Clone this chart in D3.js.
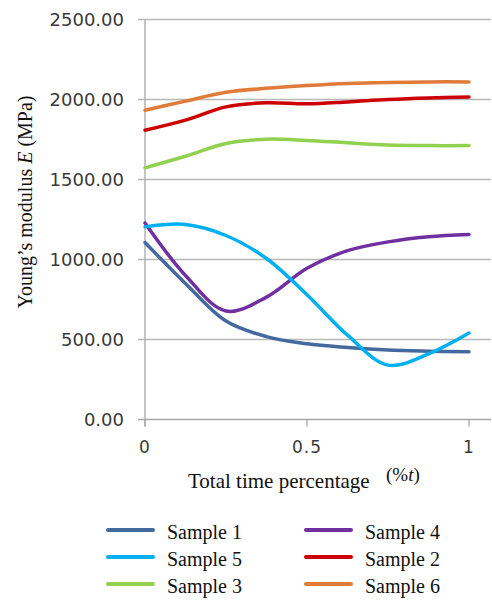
<!DOCTYPE html>
<html>
<head>
<meta charset="utf-8">
<script src="https://cdn.jsdelivr.net/npm/d3@7"></script>
<style>
  body { margin: 0; background: #fff; }
  .tick-label { font-family: "DejaVu Sans", sans-serif; fill: #3a3a3a; }
  .serif { font-family: "Liberation Serif", "Times New Roman", serif; fill: #111; }
</style>
</head>
<body>
<div id="chart"></div>
<script>
// time fraction where values were read
var tValues = [0, 0.125, 0.25, 0.375, 0.5, 0.625, 0.75, 0.875, 1];

// Young's modulus (MPa) per sample
var sample1 = [1106, 850, 615, 518, 473, 450, 434, 427, 423];
var sample4 = [1228, 900, 678, 765, 945, 1055, 1110, 1142, 1156];
var sample5 = [1204, 1219, 1150, 1006, 780, 527, 340, 410, 540];
var sample2 = [1808, 1871, 1954, 1980, 1973, 1985, 2000, 2010, 2016];
var sample3 = [1573, 1645, 1725, 1752, 1744, 1729, 1716, 1712, 1712];
var sample6 = [1933, 1990, 2045, 2070, 2087, 2100, 2107, 2110, 2110];

var seriesNames = ["Sample 1", "Sample 4", "Sample 5", "Sample 2", "Sample 3", "Sample 6"];
var seriesColors = ["#44699f", "#7030a0", "#00b0f0", "#cc0000", "#92d050", "#e07b39"];

var yTicks = [0, 500, 1000, 1500, 2000, 2500];
var xTicks = [0, 0.5, 1];

var allSeries = [sample1, sample4, sample5, sample2, sample3, sample6].map(function(vals, i){
    return {
        name: seriesNames[i],
        color: seriesColors[i],
        points: vals.map(function(v, j){ return {t: tValues[j], v: v}; })
    };
});

var width = 492, height = 601;

var svg = d3.select("#chart")
    .append("svg")
    .attr("width", width)
    .attr("height", height);

var x = d3.scaleLinear().domain([0, 1]).range([145, 469]);
var y = d3.scaleLinear().domain([0, 2500]).range([419.5, 19.5]);

// gridlines
svg.append("g")
    .selectAll("line")
    .data(yTicks)
    .enter().append("line")
    .attr("x1", 138)
    .attr("x2", 491)
    .attr("y1", function(d){ return y(d); })
    .attr("y2", function(d){ return y(d); })
    .attr("stroke", function(d){ return d == 0 ? "#a6a6a6" : "#b8b8b8"; })
    .attr("stroke-width", 1.3);

// y axis line
svg.append("line")
    .attr("x1", 145).attr("x2", 145)
    .attr("y1", y(2500)).attr("y2", y(0) + 7)
    .attr("stroke", "#a6a6a6")
    .attr("stroke-width", 1.3);

// x ticks
svg.append("g")
    .selectAll("line")
    .data(xTicks)
    .enter().append("line")
    .attr("x1", function(d){ return x(d); })
    .attr("x2", function(d){ return x(d); })
    .attr("y1", y(0))
    .attr("y2", y(0) + 7)
    .attr("stroke", "#a6a6a6")
    .attr("stroke-width", 1.3);

// y tick labels
svg.append("g")
    .selectAll("text")
    .data(yTicks)
    .enter().append("text")
    .attr("class", "tick-label")
    .attr("x", 124)
    .attr("y", function(d){ return y(d) + 6.5; })
    .attr("text-anchor", "end")
    .style("font-size", "18px")
    .text(function(d){ return d3.format(".2f")(d); });

// x tick labels
svg.append("g")
    .selectAll("text")
    .data(xTicks)
    .enter().append("text")
    .attr("class", "tick-label")
    .attr("x", function(d){ return x(d); })
    .attr("y", 453)
    .attr("text-anchor", "middle")
    .style("font-size", "17px")
    .style("letter-spacing", "1px")
    .text(function(d){ return d; });

// lines
var line = d3.line()
    .x(function(d){ return x(d.t); })
    .y(function(d){ return y(d.v); })
    .curve(d3.curveCatmullRom.alpha(0.5));

svg.append("g")
    .selectAll("path")
    .data(allSeries)
    .enter().append("path")
    .attr("d", function(d){ return line(d.points); })
    .attr("fill", "none")
    .attr("stroke", function(d){ return d.color; })
    .attr("stroke-width", 3.5)
    .attr("stroke-linecap", "round")
    .attr("stroke-linejoin", "round");

// y axis title
var ytitle = svg.append("text")
    .attr("class", "serif")
    .attr("transform", "translate(32,202) rotate(-90)")
    .attr("text-anchor", "middle")
    .style("font-size", "20px");
ytitle.append("tspan").text("Young\u2019s modulus ");
ytitle.append("tspan").style("font-style", "italic").text(" E ");
ytitle.append("tspan").text(" (MPa)");

// x axis title
svg.append("text")
    .attr("class", "serif")
    .attr("x", 188)
    .attr("y", 488)
    .style("font-size", "21px")
    .text("Total time percentage");
var pct = svg.append("text")
    .attr("class", "serif")
    .attr("x", 386)
    .attr("y", 481)
    .style("font-size", "19px");
pct.append("tspan").text("(%");
pct.append("tspan").style("font-style", "italic").text("t");
pct.append("tspan").text(")");

// legend: Excel fills it row by row, two columns
var legend = svg.append("g")
    .selectAll("g")
    .data(allSeries)
    .enter().append("g")
    .attr("transform", function(d, i){
        var col = i % 2, row = Math.floor(i / 2);
        return "translate(" + (col == 0 ? 108 : 306) + "," + (530 + row * 27) + ")";
    });

legend.append("line")
    .attr("x1", 0).attr("x2", 45)
    .attr("y1", 0).attr("y2", 0)
    .attr("stroke", function(d){ return d.color; })
    .attr("stroke-width", 4)
    .attr("stroke-linecap", "round");

legend.append("text")
    .attr("class", "serif")
    .attr("x", 59)
    .attr("y", 8.5)
    .style("font-size", "20px")
    .text(function(d){ return d.name; });
</script>
</body>
</html>
